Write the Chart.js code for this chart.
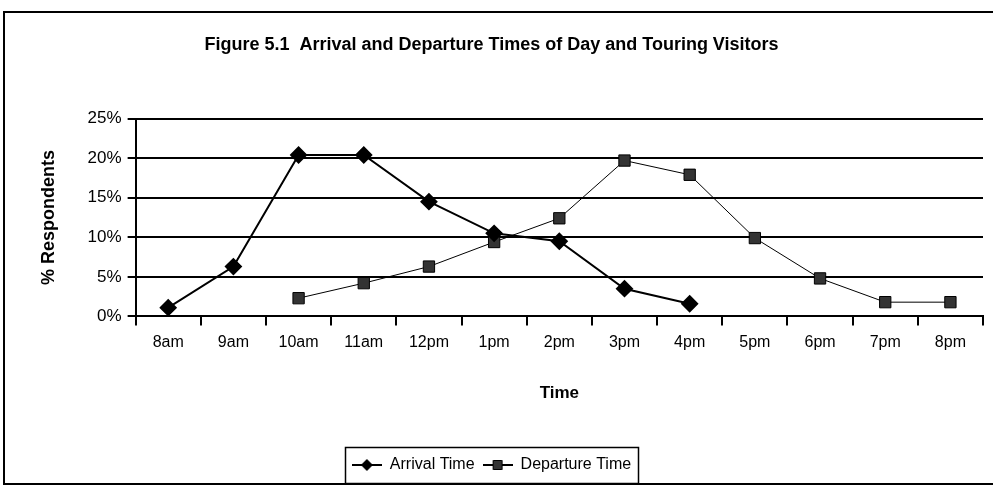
<!DOCTYPE html>
<html>
<head>
<meta charset="utf-8">
<script src="https://cdn.jsdelivr.net/npm/chart.js@4/dist/chart.umd.min.js"></script>
<style>
html,body{margin:0;padding:0;background:#fff;}
#wrap{width:993px;height:487px;position:relative;}
</style>
</head>
<body>
<div id="wrap"><canvas id="c" width="993" height="487"></canvas></div>
<script>
const times = ['8am','9am','10am','11am','12pm','1pm','2pm','3pm','4pm','5pm','6pm','7pm','8pm'];
const arrival = [1.1, 6.3, 20.4, 20.4, 14.5, 10.5, 9.5, 3.5, 1.6, null, null, null, null];
const departure = [null, null, 2.3, 4.2, 6.3, 9.4, 12.4, 19.7, 17.9, 9.9, 4.8, 1.8, 1.8];
const yTicks = [0, 5, 10, 15, 20, 25];

const FONT = '"Liberation Sans Narrow", "Liberation Sans", Arial, sans-serif';

function legendIcon(kind){
  const c = document.createElement('canvas');
  c.width = 30; c.height = 14;
  const g = c.getContext('2d');
  g.strokeStyle = '#000';
  g.lineWidth = 2;
  g.beginPath(); g.moveTo(0,7); g.lineTo(30,7); g.stroke();
  g.fillStyle = kind === 'diamond' ? '#000' : '#333';
  g.beginPath();
  if(kind === 'diamond'){ g.moveTo(15,1); g.lineTo(21,7); g.lineTo(15,13); g.lineTo(9,7); g.closePath(); g.fill(); }
  else { g.rect(10.5,2.5,9,9); g.fill(); g.lineWidth=1; g.stroke(); }
  return c;
}

const framePlugin = {
  id:'frame',
  beforeDraw(chart){
    const g = chart.ctx;
    g.save();
    g.fillStyle='#fff'; g.fillRect(0,0,chart.width,chart.height);
    g.strokeStyle='#000'; g.lineWidth=2;
    g.strokeRect(4,12,chart.width+10,472);
    g.restore();
  },
  afterDraw(chart){
    // box around the legend items only
    const boxes = chart.legend.legendHitBoxes, g = chart.ctx;
    if(!boxes || !boxes.length) return;
    const l = Math.min(...boxes.map(b=>b.left)) - 7;
    const r = Math.max(...boxes.map(b=>b.left+b.width)) + 7;
    const t = Math.min(...boxes.map(b=>b.top)) - 10;
    const b = Math.max(...boxes.map(b=>b.top+b.height)) + 10;
    g.save(); g.strokeStyle='#000'; g.lineWidth=1.5;
    g.strokeRect(Math.round(l)+0.5, Math.round(t)+0.5, Math.round(r-l), Math.round(b-t));
    g.restore();
  }
};

new Chart(document.getElementById('c'), {
  type:'line',
  data:{
    labels: times,
    datasets:[
      { label:'Arrival Time', data: arrival, borderColor:'#000', borderWidth:2, backgroundColor:'#000',
        pointStyle:'rectRot', pointRadius:7.5, pointBackgroundColor:'#000', pointBorderColor:'#000', tension:0 },
      { label:'Departure Time', data: departure, borderColor:'#000', borderWidth:1, backgroundColor:'#333',
        pointStyle:'rect', pointRadius:8, pointBackgroundColor:'#333', pointBorderColor:'#000', pointBorderWidth:1, tension:0 }
    ]
  },
  plugins:[framePlugin],
  options:{
    responsive:false,
    animation:false,
    layout:{ padding:{ left:0, right:10, top:4, bottom:4 } },
    plugins:{
      title:{ display:true, text:'Figure 5.1  Arrival and Departure Times of Day and Touring Visitors',
        color:'#000', font:{ family:FONT, size:18, weight:'bold' }, padding:{ top:30, bottom:63 } },
      legend:{ position:'bottom', labels:{ usePointStyle:true, pointStyleWidth:30, color:'#000', font:{ family:FONT, size:16 },
        padding:8, boxHeight:14,
        generateLabels(chart){
          return chart.data.datasets.map((d,i)=>({ text:d.label, pointStyle: legendIcon(i===0?'diamond':'square'),
            fillStyle:'#000', strokeStyle:'#000', lineWidth:0, datasetIndex:i, fontColor:'#000' }));
        } } },
      tooltip:{ enabled:false }
    },
    scales:{
      x:{
        offset:true,
        grid:{ offset:true, drawOnChartArea:false, drawTicks:true, tickLength:9, color:'#000', lineWidth:2 },
        border:{ color:'#000', width:2 },
        ticks:{ color:'#000', font:{ family:FONT, size:16 }, padding:8, maxRotation:0, autoSkip:false },
        title:{ display:true, text:'Time', color:'#000', font:{ family:FONT, size:17, weight:'bold' }, padding:{ top:23, bottom:45 } }
      },
      y:{
        min:0, max:25,
        afterBuildTicks(scale){ scale.ticks = yTicks.map(v=>({ value:v })); },
        grid:{ color:'#000', lineWidth:2, drawTicks:true, tickLength:8 },
        border:{ color:'#000', width:2 },
        ticks:{ color:'#000', font:{ family:FONT, size:17 }, padding:6, callback:v=>v+'%' },
        title:{ display:true, text:'% Respondents', color:'#000', font:{ family:FONT, size:18, weight:'bold' }, padding:{ top:38, bottom:22 } }
      }
    }
  }
});
</script>
</body>
</html>
